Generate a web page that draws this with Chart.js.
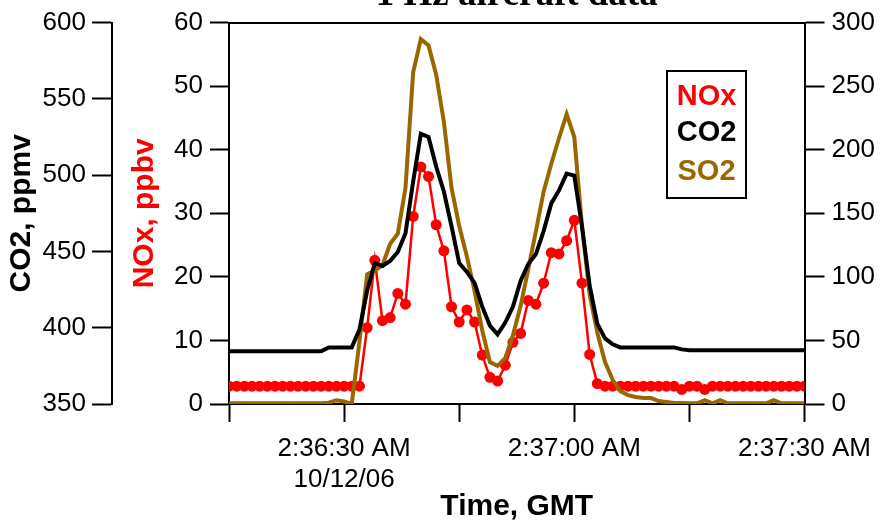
<!DOCTYPE html>
<html>
<head>
<meta charset="utf-8">
<script src="https://cdn.jsdelivr.net/npm/chart.js@4/dist/chart.umd.min.js"></script>
<style>
  html, body { margin: 0; padding: 0; background: #fff; }
  #wrap { width: 882px; height: 526px; }
</style>
</head>
<body>
<div id="wrap"><canvas id="c" width="882" height="526"></canvas></div>
<script>
// seconds after 2:36:15 AM GMT, 10/12/06
const seconds = [0,1,2,3,4,5,6,7,8,9,10,11,12,13,14,15,16,17,18,19,20,21,22,23,24,25,26,27,28,29,30,31,32,33,34,35,36,37,38,39,40,41,42,43,44,45,46,47,48,49,50,51,52,53,54,55,56,57,58,59,60,61,62,63,64,65,66,67,68,69,70,71,72,73,74,75];

const noxPpbv = [2.8,2.8,2.8,2.8,2.8,2.8,2.8,2.8,2.8,2.8,2.8,2.8,2.8,2.8,2.8,2.8,2.8,2.8,
  12.0,22.6,13.1,13.6,17.4,15.7,29.5,37.3,35.8,28.2,24.1,15.3,12.9,14.8,12.9,7.7,4.2,3.6,6.1,9.7,11.1,16.3,15.7,19.0,23.8,23.6,25.7,28.9,19.0,7.8,3.2,2.8,
  2.8,2.8,2.8,2.8,2.8,2.8,2.8,2.8,2.8,2.3,2.8,2.8,2.3,2.8,2.8,2.8,2.8,2.8,2.8,2.8,2.8,2.8,2.8,2.8,2.8,2.8];

const co2Ppmv = [384.5,384.5,384.5,384.5,384.5,384.5,384.5,384.5,384.5,384.5,384.5,384.5,384.5,
  387.1,387.1,387.1,387.1,398.8,424.2,442.4,440.5,443.8,449.6,462.0,495.8,527.1,525.1,505.6,489.3,466.5,442.4,436.6,429.4,413.8,401.4,395.6,403.4,413.8,430.7,441.8,448.3,463.3,481.5,490.0,501.0,499.7,466.5,427.5,402.7,393.0,389.1,
  387.1,387.1,387.1,387.1,387.1,387.1,387.1,387.1,385.8,
  385.2,385.2,385.2,385.2,385.2,385.2,385.2,385.2,385.2,385.2,385.2,385.2,385.2,385.2,385.2,385.2];

const so2Ppbv = [0.5,0.5,0.5,0.5,0.5,0.5,0.5,0.5,0.5,0.5,0.5,0.5,0.5,
  1,3,2,0,49,102,105,109,126,134,170,261,287,282,259,222,170,140,116,89,58,33,30,36,54,77,106,136,167,189,209,228,210,140,86,56,33,19,10,7,5.5,4.7,4.7,2.3,1.5,0.8,0.8,
  0.5,0.5,3,0.5,3,0.5,0.5,0.5,0.5,0.5,0.5,3,0.5,0.5,0.5,0.5];

const xTickValues = [0,15,30,45,60,75];
const xTickLabels = ['', ['2:36:30 AM','10/12/06'], '', '2:37:00 AM', '', '2:37:30 AM'];

const seriesNames = ['NOx','CO2','SO2'];
const seriesColors = ['#ff0000','#000000','#996600'];
const chartTitle = '1 Hz aircraft data';

Chart.defaults.font.family = '"Liberation Sans", Arial, Helvetica, sans-serif';
Chart.defaults.color = '#000';

const pts = (ys) => seconds.map((s, i) => ({x: s, y: ys[i]}));

const overlayPlugin = {
  id: 'overlay',
  afterDraw(chart) {
    const ctx = chart.ctx;
    const area = chart.chartArea;
    ctx.save();
    // title (clipped at top)
    ctx.font = 'bold 37px "Liberation Serif", "Times New Roman", serif';
    ctx.fillStyle = '#000';
    ctx.textAlign = 'center';
    ctx.textBaseline = 'alphabetic';
    ctx.fillText(chartTitle, (area.left + area.right) / 2, 5);
    // legend box
    const bx = 667, by = 71, bw = 79, bh = 127;
    ctx.fillStyle = '#fff';
    ctx.fillRect(bx, by, bw, bh);
    ctx.lineWidth = 2;
    ctx.strokeStyle = '#000';
    ctx.strokeRect(bx, by, bw, bh);
    ctx.font = 'bold 29px "Liberation Sans", Arial, sans-serif';
    ctx.textBaseline = 'middle';
    const ys = [97, 133, 172];
    seriesNames.forEach((n, i) => {
      ctx.fillStyle = seriesColors[i];
      ctx.fillText(n, bx + bw / 2, ys[i]);
    });
    ctx.restore();
  }
};

const tickFont = {size: 26};
const axisTitleFont = {size: 30, weight: 'bold'};

new Chart(document.getElementById('c'), {
  type: 'line',
  data: {
    datasets: [
      {
        label: seriesNames[1], data: pts(co2Ppmv), yAxisID: 'yCO2',
        borderColor: seriesColors[1], borderWidth: 4, pointRadius: 0, tension: 0
      },
      {
        label: seriesNames[2], data: pts(so2Ppbv), yAxisID: 'ySO2',
        borderColor: seriesColors[2], borderWidth: 4, pointRadius: 0, tension: 0
      },
      {
        label: seriesNames[0], data: pts(noxPpbv), yAxisID: 'yNOx',
        borderColor: seriesColors[0], borderWidth: 2.5, pointRadius: 5.5,
        pointBackgroundColor: seriesColors[0], pointBorderWidth: 0, tension: 0
      }
    ]
  },
  options: {
    responsive: false,
    animation: false,
    layout: {padding: {top: 20, left: 0, right: 0, bottom: 0}},
    plugins: {legend: {display: false}, tooltip: {enabled: false}, title: {display: false}},
    scales: {
      x: {
        type: 'linear', position: 'bottom', min: 0, max: 75,
        afterBuildTicks: (s) => { s.ticks = xTickValues.map(v => ({value: v})); },
        ticks: {
          autoSkip: false, maxRotation: 0, minRotation: 0, padding: 11, font: tickFont,
          callback: (v) => { const k = xTickValues.indexOf(v); return k >= 0 ? xTickLabels[k] : ''; }
        },
        grid: {drawOnChartArea: false, drawTicks: true, tickLength: 18, tickWidth: 2, tickColor: '#000'},
        border: {display: true, color: '#000', width: 2},
        title: {display: true, text: 'Time, GMT', font: axisTitleFont, color: '#000', padding: {top: 0, bottom: 1}},
        afterFit: (s) => { s.height = 122; }
      },
      xTop: {
        type: 'linear', position: 'top', min: 0, max: 75,
        ticks: {display: false},
        grid: {drawOnChartArea: false, drawTicks: false},
        border: {display: true, color: '#000', width: 2},
        afterFit: (s) => { s.height = 0; }
      },
      yNOx: {
        type: 'linear', position: 'left', weight: 0, min: 0, max: 60,
        ticks: {stepSize: 10, padding: 7, font: tickFont, color: '#000'},
        grid: {drawOnChartArea: false, drawTicks: true, tickLength: 19, tickWidth: 2, tickColor: '#000'},
        border: {display: true, color: '#000', width: 2},
        title: {display: true, text: 'NOx, ppbv', font: axisTitleFont, color: '#ff0000', padding: {top: 15, bottom: 0}},
        afterFit: (s) => { s.width = 117; }
      },
      yCO2: {
        type: 'linear', position: 'left', weight: 1, min: 350, max: 600,
        ticks: {stepSize: 50, padding: 6, font: tickFont, color: '#000'},
        grid: {drawOnChartArea: false, drawTicks: true, tickLength: 20, tickWidth: 2, tickColor: '#000'},
        border: {display: true, color: '#000', width: 2},
        title: {display: true, text: 'CO2, ppmv', font: axisTitleFont, color: '#000', padding: {top: 4, bottom: 0}},
        afterFit: (s) => { s.width = 112; }
      },
      ySO2: {
        type: 'linear', position: 'right', min: 0, max: 300,
        ticks: {stepSize: 50, padding: 7, font: tickFont, color: '#000'},
        grid: {drawOnChartArea: false, drawTicks: true, tickLength: 20, tickWidth: 2, tickColor: '#000'},
        border: {display: true, color: '#000', width: 2},
        afterFit: (s) => { s.width = 77; }
      }
    }
  },
  plugins: [overlayPlugin]
});
</script>
</body>
</html>
